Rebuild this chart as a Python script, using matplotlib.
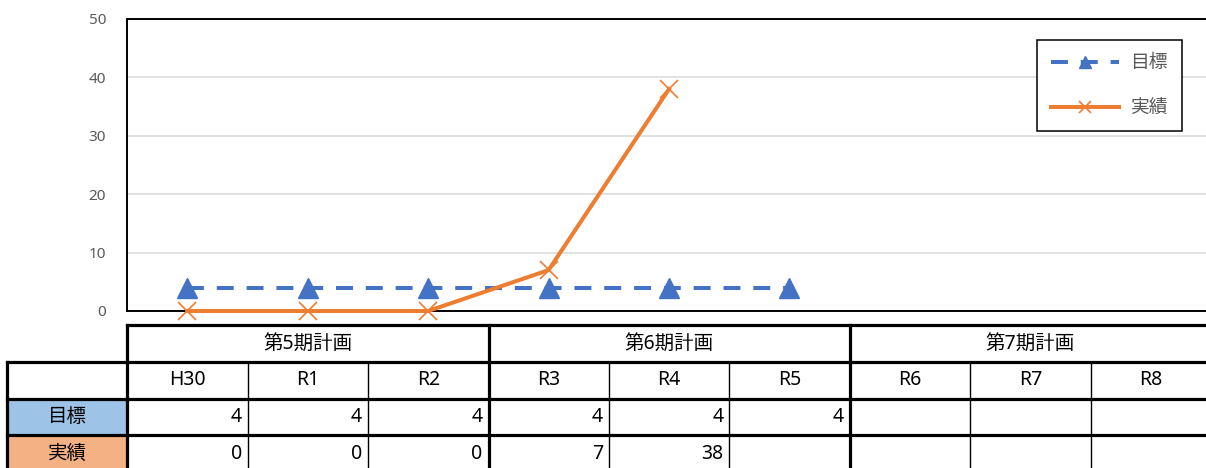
import numpy as np
import matplotlib.pyplot as plt
from matplotlib.patches import Rectangle

plt.rcParams['font.family'] = ['Noto Sans', 'Noto Sans CJK JP', 'DejaVu Sans']

# データ
years = ['H30', 'R1', 'R2', 'R3', 'R4', 'R5', 'R6', 'R7', 'R8']
periods = ['第5期計画', '第6期計画', '第7期計画']
period_span = [(0, 2), (3, 5), (6, 8)]
target = [4, 4, 4, 4, 4, 4, None, None, None]
actual = [0, 0, 0, 7, 38, None, None, None, None]
row_labels = ['目標', '実績']
row_colors = ['#9DC3E6', '#F4B183']

W, H = 1206, 468


def px(x0, y0, x1, y1):
    return [x0 / W, 1 - y1 / H, (x1 - x0) / W, (y1 - y0) / H]


fig = plt.figure(figsize=(W / 100, H / 100), dpi=100)

# グラフ部分
ax = fig.add_axes(px(127, 19, 1211, 311))
x = np.arange(len(years))
t = np.array([np.nan if v is None else v for v in target], dtype=float)
a = np.array([np.nan if v is None else v for v in actual], dtype=float)

ax.plot(x, t, color='#4472C4', lw=2.9, ls=(0, (4.2, 3.2)), marker='^',
        ms=14, label='目標', clip_on=False, zorder=3)
ax.plot(x, a, color='#ED7D31', lw=2.9, marker='x', ms=13, mew=1.2,
        label='実績', clip_on=False, zorder=4)

ax.set_xlim(-0.5, 8.5)
ax.set_ylim(0, 50)
ax.set_yticks(range(0, 51, 10))
ax.set_xticks([])
ax.grid(axis='y', color='#D9D9D9', lw=1.1)
ax.set_axisbelow(True)
ax.tick_params(axis='y', length=0, pad=15, labelsize=11, labelcolor='#595959')
for s in ax.spines.values():
    s.set_color('black')
    s.set_linewidth(1.4)

leg = ax.legend(loc='upper right', bbox_to_anchor=(0.973, 0.928),
                borderaxespad=0, fontsize=13.5, labelcolor='#595959',
                handlelength=3.6, labelspacing=1.45, handletextpad=0.6,
                borderpad=0.75, fancybox=False, edgecolor='black',
                framealpha=1, markerscale=0.65)
leg.get_frame().set_linewidth(1.1)

# 表部分
tax = fig.add_axes(px(7, 325, 1211, 472))
tax.set_xlim(-1.5, 8.5)
tax.set_ylim(4, 0)
tax.axis('off')

for k, c in enumerate(row_colors):
    tax.add_patch(Rectangle((-1.5, 2 + k), 1, 1, color=c, lw=0))

thick = dict(color='black', lw=2.3, clip_on=False, solid_capstyle='projecting')
thin = dict(color='black', lw=1.0, clip_on=False)

tax.plot([-0.5, 8.5], [0, 0], **thick)
for yy in [1, 2, 3, 4]:
    tax.plot([-1.5, 8.5], [yy, yy], **thick)
tax.plot([-1.5, -1.5], [1, 4], **thick)
for xx in [-0.5, 2.5, 5.5, 8.5]:
    tax.plot([xx, xx], [0, 4], **thick)
for xx in [0.5, 1.5, 3.5, 4.5, 6.5, 7.5]:
    tax.plot([xx, xx], [1, 4], **thin)

for name, (s0, s1) in zip(periods, period_span):
    tax.text((s0 + s1) / 2, 0.5, name, ha='center', va='center', fontsize=14)
for i, y in enumerate(years):
    tax.text(i, 1.5, y, ha='center', va='center', fontsize=14)
for k, lab in enumerate(row_labels):
    tax.text(-1, 2.5 + k, lab, ha='center', va='center', fontsize=14)
for k, vals in enumerate([target, actual]):
    for i, v in enumerate(vals):
        if v is not None:
            tax.text(i + 0.45, 2.5 + k, str(v), ha='right', va='center',
                     fontsize=14)

fig.savefig('out.png', dpi=100)
